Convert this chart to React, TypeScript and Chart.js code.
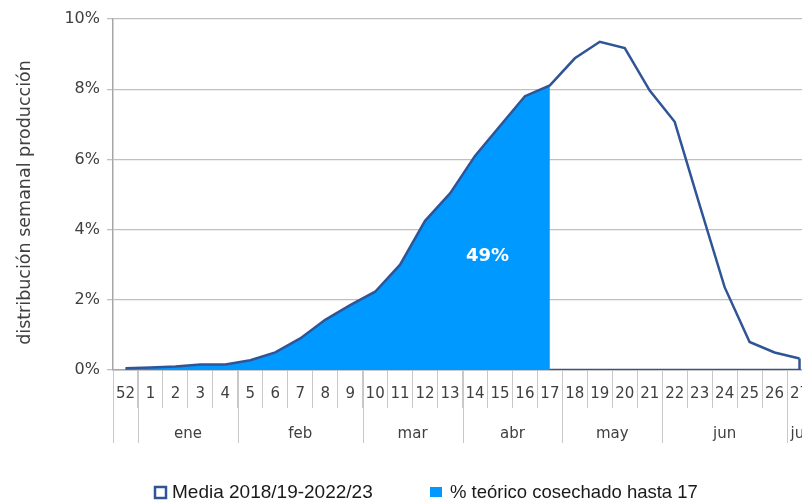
import React, { useEffect, useRef } from 'react';
import { Chart, registerables } from 'chart.js';

Chart.register(...registerables);

// ---- data ----
const weeks = ['52', '1', '2', '3', '4', '5', '6', '7', '8', '9', '10', '11', '12', '13', '14', '15', '16', '17', '18', '19', '20', '21', '22', '23', '24', '25', '26', '27'];
const media = [0.05, 0.07, 0.1, 0.16, 0.16, 0.28, 0.5, 0.9, 1.43, 1.85, 2.23, 3.0, 4.25, 5.03, 6.1, 6.95, 7.8, 8.11, 8.88, 9.35, 9.17, 7.96, 7.07, 4.7, 2.36, 0.8, 0.5, 0.33];
const cosechado = [0.05, 0.07, 0.1, 0.16, 0.16, 0.28, 0.5, 0.9, 1.43, 1.85, 2.23, 3.0, 4.25, 5.03, 6.1, 6.95, 7.8, 8.11, null, null, null, null, null, null, null, null, null, null];
const monthLabels = ['', 'ene', 'feb', 'mar', 'abr', 'may', 'jun', 'jul'];
const monthFirstWeek = ['52', '1', '5', '10', '14', '18', '22', '27'];
const legendLabels = ['Media 2018/19-2022/23', '% teórico cosechado hasta 17'];
const yTicks = [0, 2, 4, 6, 8, 10];
const harvestedLabel = '49%';
const harvestedLabelWeeks = ['14', '15'];
const harvestedLabelValue = 3.25;
const yTitle = 'distribución semanal producción';

// ---- styles ----
const LINE = '#2f5597';
const FILL = '#0099ff';
const AXIS_FONT = '"DejaVu Sans", sans-serif';
const LEGEND_FONT = '"Liberation Sans", Arial, sans-serif';
const TEXT = '#404040';
const TITLE_SHIFT = 8; // px the y title sits below the plot centre

const decorations = {
  id: 'decorations',
  afterDraw(chart: any) {
    const { ctx, scales } = chart;
    const x = scales.x;
    const y = scales.y;
    const cell = x.width / weeks.length;
    const axisY = chart.chartArea.bottom;
    ctx.save();
    // month separators & labels
    ctx.strokeStyle = '#c8c8c8';
    ctx.lineWidth = 1;
    ctx.fillStyle = TEXT;
    ctx.font = `15px ${AXIS_FONT}`;
    ctx.textAlign = 'center';
    ctx.textBaseline = 'middle';
    for (let i = 0; i < monthFirstWeek.length; i++) {
      const startIdx = weeks.indexOf(monthFirstWeek[i]);
      const endIdx = i + 1 < monthFirstWeek.length ? weeks.indexOf(monthFirstWeek[i + 1]) - 1 : weeks.length - 1;
      const x0 = x.getPixelForValue(startIdx) - cell / 2;
      const x1 = x.getPixelForValue(endIdx) + cell / 2;
      ctx.beginPath();
      ctx.moveTo(Math.round(x0) + 0.5, axisY);
      ctx.lineTo(Math.round(x0) + 0.5, axisY + 73);
      ctx.moveTo(Math.round(x1) + 0.5, axisY);
      ctx.lineTo(Math.round(x1) + 0.5, axisY + 73);
      ctx.stroke();
      if (monthLabels[i]) ctx.fillText(monthLabels[i], (x0 + x1) / 2, axisY + 64);
    }
    // y-axis title
    ctx.save();
    ctx.translate(25, (chart.chartArea.top + chart.chartArea.bottom) / 2 + TITLE_SHIFT);
    ctx.rotate(-Math.PI / 2);
    ctx.font = `17.5px ${AXIS_FONT}`;
    ctx.fillStyle = TEXT;
    ctx.fillText(yTitle, 0, 0);
    ctx.restore();
    // harvested percentage label
    const lx = (x.getPixelForValue(weeks.indexOf(harvestedLabelWeeks[0])) + x.getPixelForValue(weeks.indexOf(harvestedLabelWeeks[1]))) / 2;
    ctx.fillStyle = '#ffffff';
    ctx.font = `bold 18px ${AXIS_FONT}`;
    ctx.fillText(harvestedLabel, lx, y.getPixelForValue(harvestedLabelValue));
    // legend
    ctx.textAlign = 'left';
    ctx.textBaseline = 'alphabetic';
    ctx.font = `19px ${LEGEND_FONT}`;
    ctx.strokeStyle = LINE;
    ctx.lineWidth = 2.5;
    ctx.fillStyle = '#ffffff';
    ctx.fillRect(155, 487, 11, 11);
    ctx.strokeRect(155, 487, 11, 11);
    ctx.fillStyle = '#1a1a1a';
    ctx.fillText(legendLabels[0], 172, 498);
    ctx.fillStyle = FILL;
    ctx.fillRect(430, 487, 12, 10);
    ctx.fillStyle = '#1a1a1a';
    ctx.font = `18.5px ${LEGEND_FONT}`;
    ctx.fillText(legendLabels[1], 450, 498);
    ctx.restore();
  },
};

export default function App() {
  const ref = useRef<HTMLCanvasElement>(null);
  useEffect(() => {
    const canvas = ref.current!;
    const last = weeks.length - 1;
    const chart = new Chart(canvas, {
      type: 'line',
      data: {
        labels: weeks,
        datasets: [
          {
            label: legendLabels[0],
            data: media,
            borderColor: LINE,
            borderWidth: 2.5,
            pointRadius: 0,
            fill: false,
            tension: 0,
            order: 0,
          },
          {
            label: legendLabels[1],
            data: cosechado,
            backgroundColor: FILL,
            borderColor: 'rgba(0,0,0,0)',
            borderWidth: 0,
            pointRadius: 0,
            fill: 'origin',
            spanGaps: false,
            order: 1,
          },
          {
            label: 'outline',
            data: [
              { x: weeks[last], y: media[last] },
              { x: weeks[last], y: 0 },
              { x: weeks[0], y: 0 },
            ],
            borderColor: LINE,
            borderWidth: 2.5,
            pointRadius: 0,
            fill: false,
            order: 2,
          },
        ] as any,
      },
      options: {
        responsive: false,
        animation: false,
        events: [],
        layout: { padding: { top: 19, right: 3, bottom: 0, left: 0 } },
        plugins: { legend: { display: false }, tooltip: { enabled: false } },
        scales: {
          x: {
            type: 'category',
            offset: true,
            grid: { offset: true, drawOnChartArea: false, drawTicks: true, tickLength: 38, color: '#c8c8c8', lineWidth: 1 },
            border: { display: true, color: '#a6a6a6', width: 1.5 },
            ticks: { autoSkip: false, maxRotation: 0, minRotation: 0, padding: -23, color: TEXT, font: { family: AXIS_FONT, size: 15 } },
            afterFit: (s: any) => { s.height = 131; },
          },
          y: {
            min: 0,
            max: 10,
            afterBuildTicks: (s: any) => { s.ticks = yTicks.map((v) => ({ value: v })); },
            grid: { color: '#c0c0c0', lineWidth: 1.3, tickLength: 6, drawTicks: true },
            border: { display: true, color: '#a6a6a6', width: 1.5 },
            ticks: { padding: 7, color: TEXT, font: { family: AXIS_FONT, size: 16 }, callback: (v: any) => v + '%' },
            title: { display: false },
            afterFit: (s: any) => { s.width = 113; },
          },
        },
      },
      plugins: [decorations],
    } as any);
    return () => chart.destroy();
  }, []);
  return (
    <div style={{ position: 'fixed', left: 0, top: 0, width: 802, height: 501, overflow: 'hidden', background: '#fff' }}>
      <canvas ref={ref} width={815} height={501} style={{ display: 'block' }} />
    </div>
  );
}
